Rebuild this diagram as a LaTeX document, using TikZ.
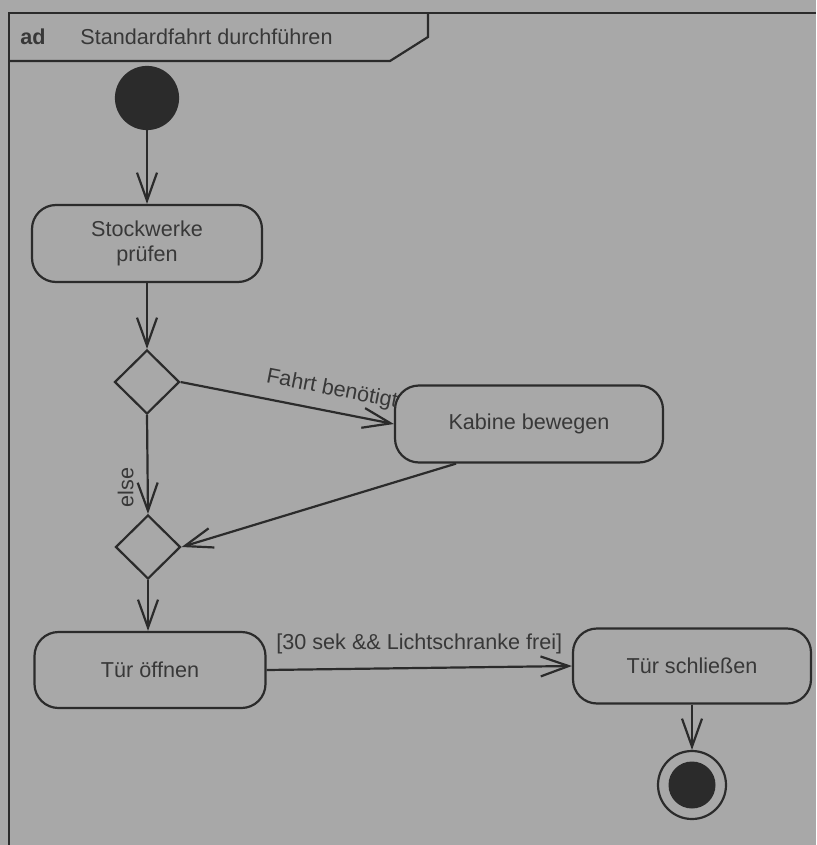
\documentclass[tikz,border=0pt]{standalone}
\usepackage{fontspec}
\setmainfont{Liberation Sans}
\usetikzlibrary{arrows.meta,shapes.geometric,calc}
\definecolor{bg}{HTML}{A8A8A8}
\definecolor{ink}{HTML}{2B2B2B}
\definecolor{txt}{HTML}{383838}
\begin{document}
\begin{tikzpicture}[x=0.5pt,y=-0.5pt,
  every node/.style={font=\fontsize{10.8}{12.5}\selectfont, text=txt},
  line/.style={draw=ink, line width=1.1pt},
  flow/.style={line, -{Straight Barb[length=14pt,width=10pt]}},
  act/.style={line, rectangle, rounded corners=12pt, fill=bg, align=center},
  dec/.style={line, diamond, minimum width=32.5pt, minimum height=32pt, inner sep=0pt},
]
\fill[bg] (0,0) rectangle (816,845);
\useasboundingbox (0,0) rectangle (816,845);

% frame
\draw[line] (9,845) -- (9,13) -- (816,13);
\draw[line] (9,61) -- (390,61) -- (428,37) -- (428,13);
\node[anchor=base west, inner sep=0, font=\bfseries\fontsize{10.8}{12.5}\selectfont] (tag) at (20,45) {ad};
\node[anchor=base west, inner sep=0] (title) at (80,45) {Standardfahrt durchführen};

% nodes
\node[line, circle, fill=ink, minimum size=31pt, inner sep=0pt] (start) at (147,98) {};
\node[act, minimum width=115pt, minimum height=38.5pt] (stock) at (147,243.5) {Stockwerke\\prüfen};
\node[dec] (d1) at (147,382) {};
\node[act, minimum width=134pt, minimum height=38.5pt] (kab) at (529,424) {Kabine bewegen};
\node[dec] (d2) at (148,547) {};
\node[act, minimum width=115.5pt, minimum height=38pt] (auf) at (150,670) {Tür öffnen};
\node[act, minimum width=119pt, minimum height=37.5pt] (zu) at (692,666) {Tür schließen};
\node[line, circle, minimum size=34pt, inner sep=0pt] (end) at (692,785) {};
\node[circle, fill=ink, minimum size=23.5pt, inner sep=0pt] (endin) at (end) {};

% edges
\draw[flow] (start) -- (stock);
\draw[flow] (stock) -- (d1);
\draw[flow] (d1.east) -- node[pos=0.69, sloped, above=2pt] {Fahrt benötigt} (kab.west);
\draw[flow] (d1.south) -- node[pos=0.735, xshift=-11pt, rotate=90] {else} (d2.north);
\draw[flow] ($(kab.south west)!0.23!(kab.south east)$) -- (d2.east);
\draw[flow] (d2.south) -- (d2.south |- auf.north);
\draw[flow] (auf.east) -- node[above=3pt] {[30 sek \&\& Lichtschranke frei]} (zu.west);
\draw[flow] (zu.south -| end) -- (end.north);
\end{tikzpicture}
\end{document}
